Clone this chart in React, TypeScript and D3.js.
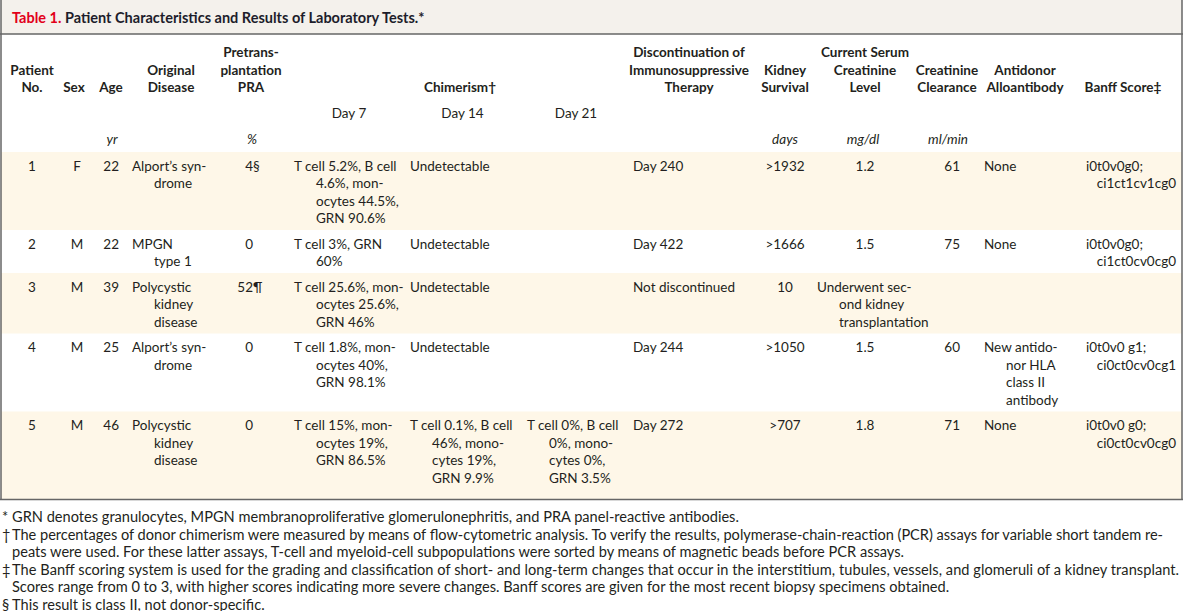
import React from "react";
import * as d3 from "d3";

// ---------- DATA ----------
const titleLabel = "Table 1.";
const titleText = "Patient Characteristics and Results of Laboratory Tests.*";

const patientNos = ["1", "2", "3", "4", "5"];
const sexes = ["F", "M", "M", "M", "M"];
const ages = ["22", "22", "39", "25", "46"];
const diseases = [
  ["Alport\u2019s syn-", "drome"],
  ["MPGN", "type 1"],
  ["Polycystic", "kidney", "disease"],
  ["Alport\u2019s syn-", "drome"],
  ["Polycystic", "kidney", "disease"],
];
const praValues = ["4", "0", "52", "0", "0"];
const praMarks = ["\u00a7", "", "\u00b6", "", ""];
const chimerismDay7 = [
  ["T cell 5.2%, B cell", "4.6%, mon-", "ocytes 44.5%,", "GRN 90.6%"],
  ["T cell 3%, GRN", "60%"],
  ["T cell 25.6%, mon-", "ocytes 25.6%,", "GRN 46%"],
  ["T cell 1.8%, mon-", "ocytes 40%,", "GRN 98.1%"],
  ["T cell 15%, mon-", "ocytes 19%,", "GRN 86.5%"],
];
const chimerismDay14 = [
  ["Undetectable"],
  ["Undetectable"],
  ["Undetectable"],
  ["Undetectable"],
  ["T cell 0.1%, B cell", "46%, mono-", "cytes 19%,", "GRN 9.9%"],
];
const chimerismDay21 = [
  [],
  [],
  [],
  [],
  ["T cell 0%, B cell", "0%, mono-", "cytes 0%,", "GRN 3.5%"],
];
const discontinuation = ["Day 240", "Day 422", "Not discontinued", "Day 244", "Day 272"];
const kidneySurvival = [">1932", ">1666", "10", ">1050", ">707"];
const creatinineLevel = [
  ["1.2"],
  ["1.5"],
  ["Underwent sec-", "ond kidney", "transplantation"],
  ["1.5"],
  ["1.8"],
];
const creatinineClearance = ["61", "75", "", "60", "71"];
const alloantibody = [
  ["None"],
  ["None"],
  [],
  ["New antido-", "nor HLA", "class II", "antibody"],
  ["None"],
];
const banffScores = [
  ["i0t0v0g0;", "ci1ct1cv1cg0"],
  ["i0t0v0g0;", "ci1ct0cv0cg0"],
  [],
  ["i0t0v0 g1;", "ci0ct0cv0cg1"],
  ["i0t0v0 g0;", "ci0ct0cv0cg0"],
];

const headerLabels = [
  ["Patient", "No."],
  ["Sex"],
  ["Age"],
  ["Original", "Disease"],
  ["Pretrans-", "plantation", "PRA"],
  ["Chimerism\u2020"],
  ["Discontinuation of", "Immunosuppressive", "Therapy"],
  ["Kidney", "Survival"],
  ["Current Serum", "Creatinine", "Level"],
  ["Creatinine", "Clearance"],
  ["Antidonor", "Alloantibody"],
  ["Banff Score\u2021"],
];
const dayLabels = ["Day 7", "Day 14", "Day 21"];
const unitLabels = ["yr", "%", "days", "mg/dl", "ml/min"];

const footnoteMarks = ["*", "\u2020", "\u2021", "\u00a7"];
const footnoteLines = [
  ["GRN denotes granulocytes, MPGN membranoproliferative glomerulonephritis, and PRA panel-reactive antibodies."],
  [
    "The percentages of donor chimerism were measured by means of flow-cytometric analysis. To verify the results, polymerase-chain-reaction (PCR) assays for variable short tandem re-",
    "peats were used. For these latter assays, T-cell and myeloid-cell subpopulations were sorted by means of magnetic beads before PCR assays.",
  ],
  [
    "The Banff scoring system is used for the grading and classification of short- and long-term changes that occur in the interstitium, tubules, vessels, and glomeruli of a kidney transplant.",
    "Scores range from 0 to 3, with higher scores indicating more severe changes. Banff scores are given for the most recent biopsy specimens obtained.",
  ],
  ["This result is class II, not donor-specific."],
];

// ---------- LAYOUT ----------
const FONT = "Lato, 'Liberation Sans', sans-serif";
const TEXT = "#231f20";
const W = 1183;
const H = 611;
const LH = 17.5;

type Anchor = "start" | "middle" | "end";

function Lines({ x, y, lines, anchor = "start", indent = 0, size = 13.5, weight = 400, italic = false }: any) {
  return (
    <>
      {lines.map((t: string, i: number) => (
        <text
          key={i}
          x={x + (i > 0 && anchor === "start" ? indent : 0)}
          y={y + i * LH}
          textAnchor={anchor as Anchor}
          fontSize={size}
          fontWeight={weight}
          fontStyle={italic ? "italic" : "normal"}
          fill={TEXT}
        >
          {t}
        </text>
      ))}
    </>
  );
}

export default function App() {
  const n = patientNos.length;
  const rows = d3.range(n);
  const lineCounts = rows.map((i) =>
    Math.max(
      diseases[i].length,
      chimerismDay7[i].length,
      chimerismDay14[i].length,
      chimerismDay21[i].length,
      creatinineLevel[i].length,
      alloantibody[i].length,
      banffScores[i].length
    )
  );
  const tableTop = 152;
  const heights = lineCounts.map((c, i) => c * LH + 8 + (i === n - 1 ? 10 : 0));
  const tops = [tableTop, ...Array.from(d3.cumsum(heights), (v) => tableTop + v)];
  const tableBottom = tops[n];

  // header column centers
  const headerX = [32, 74, 111, 171, 251, 460, 689, 785, 865, 947, 1025, 1123];
  const headerBase = 92;
  const dayX = d3.scalePoint<string>().domain(dayLabels).range([349, 576]);
  const unitX = [112, 252, 785, 863, 948];

  const fnTop = 522;
  const fnSize = 14.6;
  // justified (non-final) footnote lines: right edge
  const justifiedEnd: Record<string, number> = { "1-0": 1163, "2-0": 1179 };
  let fnLine = 0;

  return (
    <div style={{ position: "absolute", left: 0, top: 0 }}>
      <svg width={W} height={H} style={{ display: "block", fontFamily: FONT }}>
        <rect x={0} y={0} width={W} height={H} fill="#ffffff" />
        {/* title bar */}
        <rect x={1} y={0} width={1181} height={34} fill="#f4f1ec" />
        <text x={12} y={23} fontSize={14.5} fontWeight={700}>
          <tspan fill="#e2001a">{titleLabel} </tspan>
          <tspan fill="#1d1d2b">{titleText}</tspan>
        </text>

        {/* row backgrounds */}
        {rows.map((i) =>
          i % 2 === 0 ? (
            <rect key={i} x={1} y={tops[i]} width={1181} height={tops[i + 1] - tops[i]} fill="#fef7e8" />
          ) : null
        )}

        {/* frame */}
        <line x1={0} y1={34} x2={1183} y2={34} stroke="#666" strokeWidth={1.5} />
        <line x1={1} y1={0} x2={1} y2={tableBottom} stroke="#666" strokeWidth={1.5} />
        <line x1={1182} y1={0} x2={1182} y2={tableBottom} stroke="#666" strokeWidth={1.5} />
        <line x1={0} y1={tableBottom} x2={1183} y2={tableBottom} stroke="#666" strokeWidth={1.5} />

        {/* headers */}
        {headerLabels.map((lab, j) => (
          <Lines
            key={j}
            x={headerX[j]}
            y={headerBase - (lab.length - 1) * LH}
            lines={lab}
            anchor="middle"
            weight={700}
          />
        ))}
        {dayLabels.map((d) => (
          <text key={d} x={dayX(d)} y={118} textAnchor="middle" fontSize={13.5} fill={TEXT}>
            {d}
          </text>
        ))}
        {unitLabels.map((u, j) => (
          <text key={u} x={unitX[j]} y={144} textAnchor="middle" fontSize={13.5} fontStyle="italic" fill={TEXT}>
            {u}
          </text>
        ))}

        {/* body rows */}
        {rows.map((i) => {
          const y = tops[i] + 18.5;
          const lvl = creatinineLevel[i];
          const bs = banffScores[i];
          return (
            <g key={i}>
              <Lines x={32} y={y} lines={[patientNos[i]]} anchor="middle" />
              <Lines x={77} y={y} lines={[sexes[i]]} anchor="middle" />
              <Lines x={119} y={y} lines={[ages[i]]} anchor="end" />
              <Lines x={132} y={y} lines={diseases[i]} indent={22} />
              <text x={253} y={y} fontSize={13.5} fill={TEXT} textAnchor="end">
                {praValues[i]}
              </text>
              <text x={253} y={y} fontSize={13.5} fill={TEXT}>
                {praMarks[i]}
              </text>
              <Lines x={294} y={y} lines={chimerismDay7[i]} indent={22} />
              <Lines x={410} y={y} lines={chimerismDay14[i]} indent={22} />
              <Lines x={527} y={y} lines={chimerismDay21[i]} indent={22} />
              <Lines x={633} y={y} lines={[discontinuation[i]]} />
              <Lines x={785} y={y} lines={[kidneySurvival[i]]} anchor="middle" />
              {lvl.length > 1 ? (
                <Lines x={817} y={y} lines={lvl} indent={22} />
              ) : (
                <Lines x={865} y={y} lines={lvl} anchor="middle" />
              )}
              <Lines x={960} y={y} lines={[creatinineClearance[i]]} anchor="end" />
              <Lines x={984} y={y} lines={alloantibody[i]} indent={22} />
              {bs.length > 0 && (
                <>
                  <Lines x={1086} y={y} lines={[bs[0]]} />
                  <Lines x={1176} y={y + LH} lines={bs.slice(1)} anchor="end" />
                </>
              )}
            </g>
          );
        })}

        {/* footnotes */}
        {footnoteLines.map((ls, k) => {
          const start = fnLine;
          fnLine += ls.length;
          return (
            <g key={k}>
              <text x={2} y={fnTop + start * LH} fontSize={fnSize} fill={TEXT}>
                {footnoteMarks[k]}
              </text>
              {ls.map((t, m) => {
                const end = justifiedEnd[`${k}-${m}`];
                return (
                  <text
                    key={m}
                    x={12}
                    y={fnTop + (start + m) * LH}
                    fontSize={fnSize}
                    fill={TEXT}
                    {...(end ? { textLength: end - 12, lengthAdjust: "spacing" } : {})}
                  >
                    {t}
                  </text>
                );
              })}
            </g>
          );
        })}
      </svg>
    </div>
  );
}
